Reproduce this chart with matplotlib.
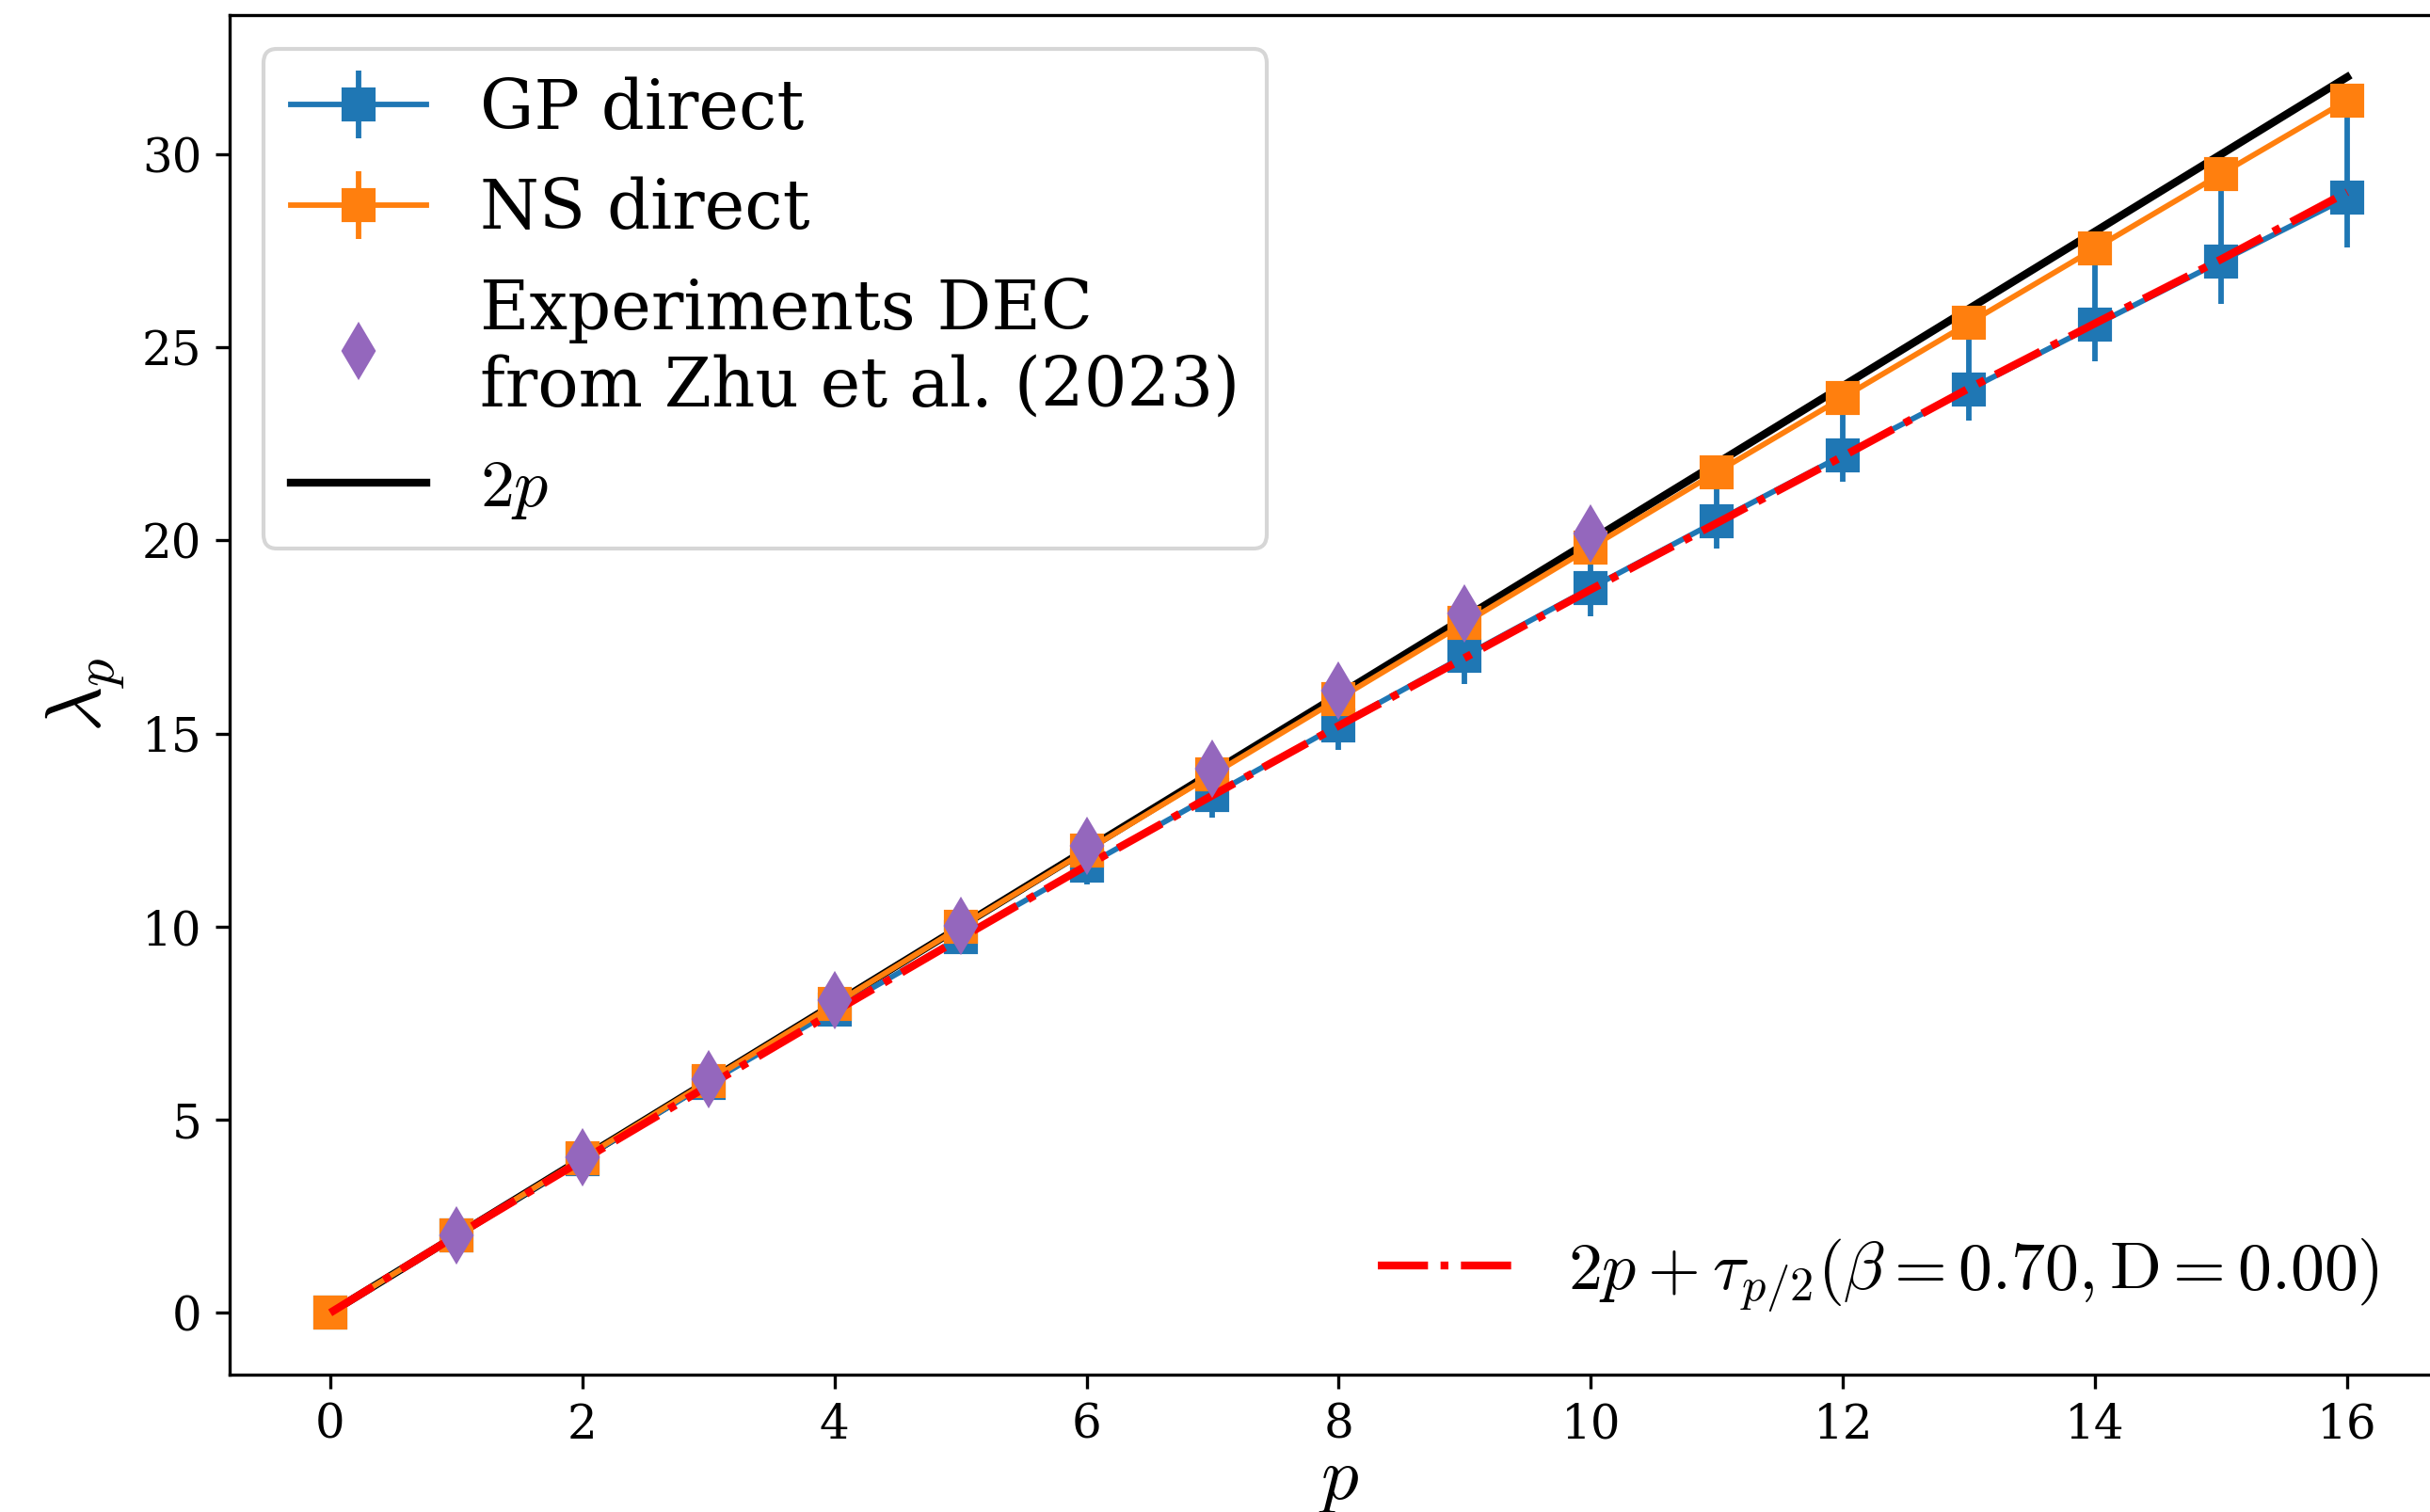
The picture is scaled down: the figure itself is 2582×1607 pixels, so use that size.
import matplotlib
matplotlib.use("Agg")
import matplotlib.pyplot as plt

plt.rcParams['font.family'] = 'DejaVu Serif'
plt.rcParams['mathtext.fontset'] = 'cm'

# ---- data ----
p = [0, 1, 2, 3, 4, 5, 6, 7, 8, 9, 10, 11, 12, 13, 14, 15, 16]
gp_direct = [0.0, 2.0, 3.98, 5.95, 7.85, 9.72, 11.58, 13.41, 15.22, 17.01,
             18.77, 20.50, 22.21, 23.91, 25.58, 27.23, 28.88]
gp_err_low = [0.0, 0.05, 0.10, 0.20, 0.28, 0.35, 0.49, 0.58, 0.65, 0.72,
              0.73, 0.72, 0.69, 0.81, 0.93, 1.11, 1.30]
ns_direct = [0.0, 2.0, 4.0, 6.0, 7.99, 9.99, 11.97, 13.94, 15.90, 17.86,
             19.82, 21.77, 23.70, 25.63, 27.56, 29.49, 31.40]
gp_err_high = [0.0, 0.0, 0.02, 0.05, 0.14, 0.27, 0.39, 0.53, 0.68, 0.85,
               1.05, 1.27, 1.49, 1.72, 1.98, 2.26, 2.52]
ns_err = [0.0, 0.02, 0.03, 0.04, 0.05, 0.06, 0.07, 0.08, 0.09, 0.10,
          0.11, 0.12, 0.13, 0.14, 0.15, 0.16, 0.17]
p_exp = [1, 2, 3, 4, 5, 6, 7, 8, 9, 10]
exp_dec = [2.0, 4.03, 6.05, 8.10, 10.03, 12.08, 14.08, 16.12, 18.12, 20.17]
two_p = [0, 2, 4, 6, 8, 10, 12, 14, 16, 18, 20, 22, 24, 26, 28, 30, 32]
model = [0.0, 2.0, 3.95, 5.88, 7.80, 9.70, 11.58, 13.40, 15.20, 16.96,
         18.73, 20.45, 22.18, 23.94, 25.62, 27.28, 29.02]

fig = plt.figure(figsize=(2582 / 300, 1607 / 300), dpi=300)
ax = fig.add_axes([0.0944, 0.0909, 0.913, 0.899])

h_black, = ax.plot(p, two_p, color='black', lw=2.0, zorder=2, label=r'$2p$')
h_gp = ax.errorbar(p, gp_direct, yerr=[gp_err_low, gp_err_high], marker='s',
                   ms=7.5, color='C0', lw=1.4, elinewidth=1.4, zorder=3,
                   label='GP direct')
h_ns = ax.errorbar(p, ns_direct, yerr=ns_err, marker='s', ms=7.5,
                   color='C1', lw=1.4, elinewidth=1.4, zorder=4,
                   label='NS direct')
h_model, = ax.plot(p, model, color='red', ls='-.', lw=2.0, zorder=5,
                   label=r'$2p+\tau_{p/2}(\beta=0.70,\mathrm{D}=0.00)$')
h_exp, = ax.plot(p_exp, exp_dec, ls='none', marker='d', ms=9, color='C4',
                 zorder=6, label='Experiments DEC\nfrom Zhu et al. (2023)')

ax.set_xlim(-0.8, 16.8)
ax.set_ylim(-1.6, 33.6)
ax.set_xticks([0, 2, 4, 6, 8, 10, 12, 14, 16])
ax.set_yticks([0, 5, 10, 15, 20, 25, 30])
ax.tick_params(labelsize=12)
ax.set_xlabel(r'$p$', fontsize=19, labelpad=-1.0)
ax.set_ylabel(r'$\lambda_p$', fontsize=20)

leg1 = ax.legend([h_gp, h_ns, h_exp, h_black],
                 ['GP direct', 'NS direct',
                  'Experiments DEC\nfrom Zhu et al. (2023)', r'$2p$'],
                 loc='upper left', fontsize=17.28)
ax.add_artist(leg1)
ax.legend([h_model], [r'$2p+\tau_{p/2}(\beta=0.70,\mathrm{D}=0.00)$'],
          loc='lower right', bbox_to_anchor=(0.9965, 0.0),
          fontsize=17.28, frameon=False)

fig.savefig('out.png', dpi=300)
